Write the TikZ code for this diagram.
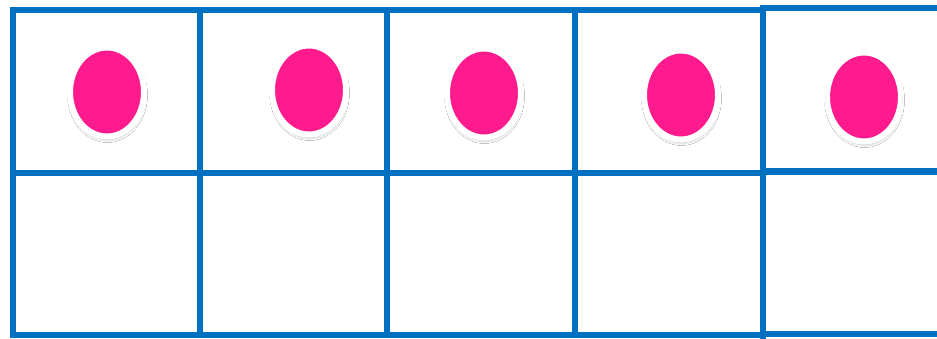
\documentclass[tikz,border=0pt]{standalone}
\usetikzlibrary{shapes.geometric,shadows.blur}
\definecolor{framecol}{RGB}{0,112,192}
\definecolor{dotpink}{RGB}{255,27,141}
\tikzset{
  gridline/.style={draw=framecol, line width=6.5pt, line cap=rect},
  counter/.style={ellipse, fill=dotpink, draw=white, line width=6pt,
    minimum width=74pt, minimum height=89pt, inner sep=0pt,
    blur shadow={shadow xshift=0.5pt, shadow yshift=-3pt, shadow blur radius=3pt, shadow blur steps=6, shadow opacity=30}}
}
\begin{document}
\begin{tikzpicture}[x=1pt,y=-1pt]
\useasboundingbox (0,0) rectangle (937,338);
\clip (0,0) rectangle (937,338);
\fill[white] (0,0) rectangle (937,338);
% first four columns
\coordinate (tl) at (13,10);
\coordinate (br) at (763,335);
\draw[gridline] (tl) rectangle (br);
\draw[gridline] (13,173) -- (763,173);
\draw[gridline] (200,10) -- (200,335);
\draw[gridline] (387,10) -- (387,335);
\draw[gridline] (575,10) -- (575,335);
% fifth column (slightly offset)
\draw[gridline] (763,8) -- (945,8);
\draw[gridline] (763,171.5) -- (945,171.5);
\draw[gridline] (763,334) -- (945,334);
\draw[gridline] (763,8) -- (763,336);
% counters
\node[counter] (d1) at (107,92) {};
\node[counter] (d2) at (309,90) {};
\node[counter] (d3) at (484,93) {};
\node[counter] (d4) at (681,95) {};
\node[counter] (d5) at (864,97) {};
\end{tikzpicture}
\end{document}
